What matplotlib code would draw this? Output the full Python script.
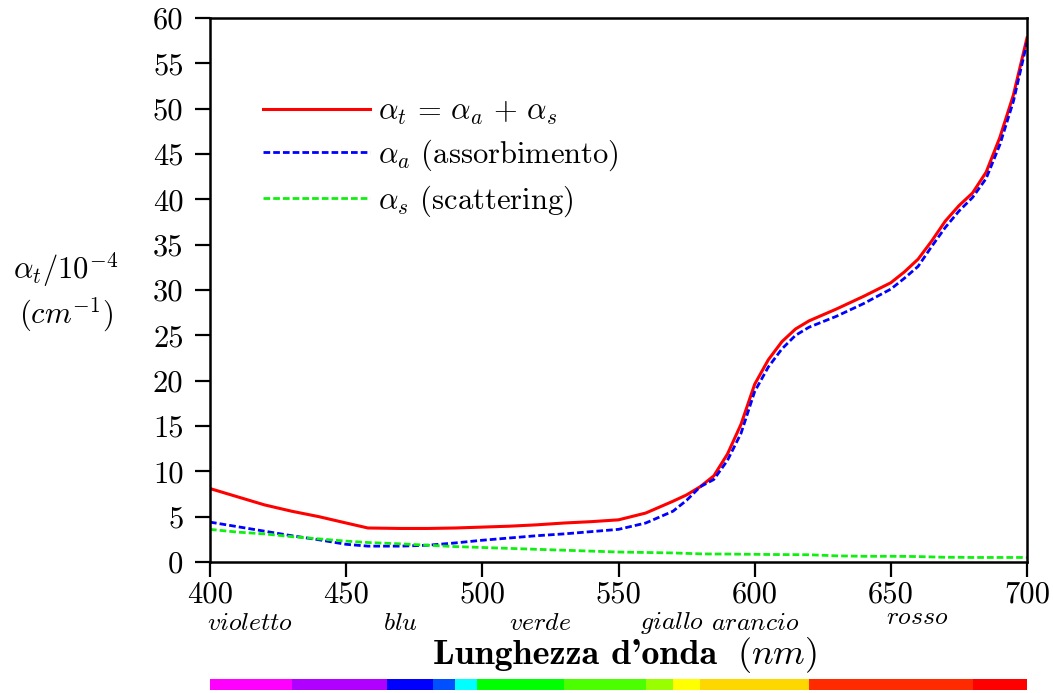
import matplotlib
matplotlib.use("Agg")
import matplotlib.pyplot as plt
import numpy as np

plt.rcParams['font.family'] = 'serif'
plt.rcParams['font.serif'] = ['cmr10']
plt.rcParams['mathtext.fontset'] = 'cm'
plt.rcParams['axes.formatter.use_mathtext'] = True

# wavelengths (nm)
wl = [400, 410, 420, 430, 440, 450, 458, 470, 480, 490, 500, 510, 520, 530, 540, 550,
      560, 570, 575, 580, 585, 590, 595, 600, 605, 610, 615, 620, 630, 640, 650, 655,
      660, 665, 670, 675, 680, 685, 690, 695, 700]
# alpha_t (total)
alpha_t = [8.1, 7.2, 6.3, 5.6, 5.0, 4.3, 3.75, 3.7, 3.7, 3.75, 3.85, 3.95, 4.1, 4.3, 4.45, 4.65,
           5.4, 6.7, 7.4, 8.3, 9.5, 11.9, 15.2, 19.6, 22.3, 24.3, 25.7, 26.6, 27.9, 29.3, 30.8, 32.0,
           33.4, 35.4, 37.6, 39.3, 40.7, 43.0, 46.8, 51.5, 57.8]
# alpha_a (absorption)
alpha_a = [4.4, 3.9, 3.4, 2.9, 2.45, 1.95, 1.75, 1.75, 1.85, 2.1, 2.4, 2.65, 2.9, 3.1, 3.35, 3.6,
           4.3, 5.6, 6.8, 8.3, 9.1, 11.2, 14.2, 18.8, 21.5, 23.5, 25.0, 25.9, 27.1, 28.5, 30.1, 31.3,
           32.6, 34.8, 36.9, 38.7, 40.2, 42.3, 46.0, 50.8, 57.3]
# alpha_s (scattering)
alpha_s = [3.6, 3.3, 3.1, 2.8, 2.55, 2.3, 2.15, 2.0, 1.85, 1.7, 1.6, 1.5, 1.4, 1.3, 1.2, 1.1,
           1.05, 1.0, 0.95, 0.9, 0.88, 0.88, 0.86, 0.85, 0.83, 0.82, 0.81, 0.8, 0.68, 0.63, 0.63, 0.62,
           0.6, 0.56, 0.52, 0.52, 0.5, 0.5, 0.5, 0.5, 0.5]

series_labels = [r'$\alpha_t \,=\, \alpha_a \,+\, \alpha_s$',
                 r'$\alpha_a$ (assorbimento)',
                 r'$\alpha_s$ (scattering)']

xticks = [400, 450, 500, 550, 600, 650, 700]
yticks = list(range(0, 61, 5))

color_names = ['violetto', 'blu', 'verde', 'giallo', 'arancio', 'rosso']
color_name_pos = [414.7, 469.8, 521.2, 569.6, 600.1, 659.6]

band_edges = [400, 430, 465, 482, 490, 498, 530, 560, 570, 580, 620, 680, 700]
band_colors = ['#ff00ff', '#b000ff', '#0000ff', '#0050ff', '#00ffff', '#00ff00',
               '#4cff00', '#99ff00', '#ffff00', '#ffd700', '#ff2a00', '#ff0000']

W, H = 1053, 693
fig = plt.figure(figsize=(W / 100, H / 100), dpi=100)
left, right, top, bottom = 210 / W, 1027 / W, 1 - 18 / H, 1 - 562 / H
ax = fig.add_axes([left, bottom, right - left, top - bottom])

ax.plot(wl, alpha_t, color='#ff0000', lw=2.2, ls='-', label=series_labels[0])
ax.plot(wl, alpha_a, color='#0000ff', lw=2.0, ls=(0, (2.4, 1.1)), label=series_labels[1])
ax.plot(wl, alpha_s, color='#10f010', lw=2.0, ls=(0, (2.4, 1.1)), label=series_labels[2])

ax.set_xlim(400, 700)
ax.set_ylim(0, 60)
ax.set_xticks(xticks)
ax.set_xticklabels([str(v) for v in xticks])
ax.set_yticks(yticks)
ax.set_yticklabels([str(v) for v in yticks])
ax.tick_params(direction='out', length=11, width=1.6, labelsize=22)
ax.tick_params(axis='x', pad=3)
ax.tick_params(axis='y', pad=8)
for s in ax.spines.values():
    s.set_linewidth(1.8)

leg = ax.legend(loc='upper left', bbox_to_anchor=(0.065, 0.853), frameon=False,
                fontsize=22, handlelength=3.5, handletextpad=0.26, labelspacing=0.35,
                borderaxespad=0, borderpad=0)

for name, pos in zip(color_names, color_name_pos):
    yoff = -0.102 if name == 'rosso' else -0.112
    ax.text(pos, yoff, '$' + name + '$', transform=ax.get_xaxis_transform(),
            ha='center', va='center', fontsize=18.5)

fig.text(717 / W, 1 - 664 / H, "Lunghezza d'onda", fontsize=26, family='cmb10',
         ha='right', va='baseline')
fig.text(737 / W, 1 - 664 / H, r"$(nm)$", fontsize=26,
         ha='left', va='baseline')

fig.text(66 / W, 1 - 270 / H, r'$\alpha_t/10^{-4}$', fontsize=22, ha='center', va='center')
fig.text(66 / W, 1 - 315 / H, r'$(cm^{-1})$', fontsize=22, ha='center', va='center')

# spectrum bar
bax = fig.add_axes([left, 1 - 690 / H, right - left, 11 / H])
starts = band_edges[:-1]
widths = [b - a for a, b in zip(band_edges[:-1], band_edges[1:])]
bax.barh([0] * len(starts), widths, left=starts, color=band_colors, height=1.0, edgecolor='none')
bax.set_xlim(400, 700)
bax.set_ylim(-0.5, 0.5)
bax.axis('off')

fig.savefig('out.png', dpi=100)
